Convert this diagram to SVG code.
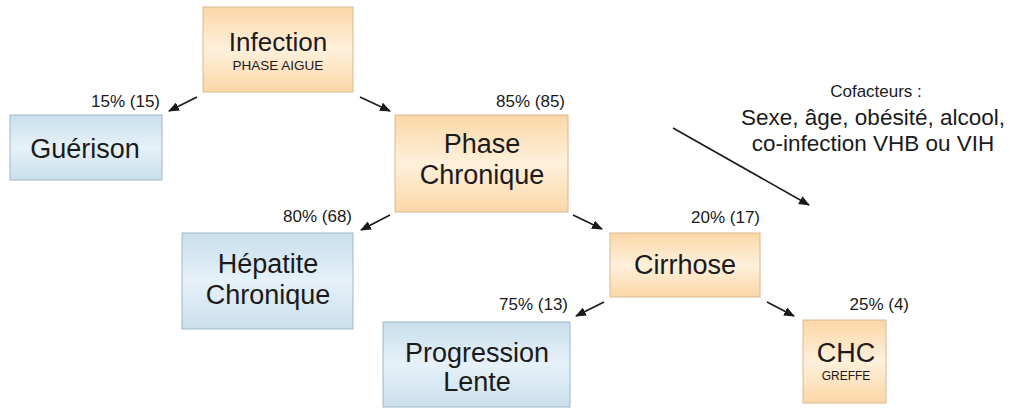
<svg xmlns="http://www.w3.org/2000/svg" width="1010" height="417" viewBox="0 0 1010 417">
<defs>
<linearGradient id="gO" x1="0" y1="0" x2="0" y2="1">
<stop offset="0" stop-color="#fbd7a6"/>
<stop offset="0.5" stop-color="#fef0dc"/>
<stop offset="1" stop-color="#fbd7a6"/>
</linearGradient>
<linearGradient id="gB" x1="0" y1="0" x2="0" y2="1">
<stop offset="0" stop-color="#c9dfec"/>
<stop offset="0.5" stop-color="#e6f1f8"/>
<stop offset="1" stop-color="#c9dfec"/>
</linearGradient>
<marker id="ah" markerWidth="11" markerHeight="9" refX="10" refY="4.5" orient="auto" markerUnits="userSpaceOnUse">
<path d="M0,0 L11,4.5 L0,9 Z" fill="#1a1a1a"/>
</marker>
<style>
.o{fill:url(#gO);stroke:#d6b994;stroke-width:1}
.b{fill:url(#gB);stroke:#9fb6c6;stroke-width:1}
text{font-family:"Liberation Sans",Arial,sans-serif;fill:#1a1a1a;text-anchor:middle}
.t{font-size:27px}
.i{font-size:26px}
.s{font-size:13.5px}
.g{font-size:12px}
.p{font-size:17px;text-anchor:end}
.c{font-size:17px}
.f{font-size:22.5px}
.e{stroke:#1a1a1a;stroke-width:1.6;fill:none;marker-end:url(#ah)}
</style>
</defs>
<g id="connectors">
<line class="e" x1="197" y1="97" x2="169" y2="111"/>
<line class="e" x1="360" y1="97" x2="390" y2="111"/>
<line class="e" x1="390" y1="215" x2="361" y2="230"/>
<line class="e" x1="573" y1="215" x2="602" y2="229"/>
<line class="e" x1="604" y1="302" x2="576" y2="316"/>
<line class="e" x1="767" y1="302" x2="794" y2="316"/>
<line class="e" x1="673" y1="128" x2="809" y2="205"/>
</g>
<g id="infection">
<rect class="o" x="203" y="7" width="150" height="85"/>
<text class="i" x="278" y="51">Infection</text>
<text class="s" x="278" y="70">PHASE AIGUE</text>
</g>
<g id="guerison">
<rect class="b" x="10" y="115" width="152" height="65"/>
<text class="t" x="85" y="158">Guérison</text>
<text class="p" x="160" y="107">15% (15)</text>
</g>
<g id="phase-chronique">
<rect class="o" x="395" y="115" width="173" height="97"/>
<text class="t" x="482" y="153">Phase</text>
<text class="t" x="482" y="184">Chronique</text>
<text class="p" x="565" y="107">85% (85)</text>
</g>
<g id="cofacteurs">
<text class="c" x="876" y="97">Cofacteurs :</text>
<text class="f" x="873" y="125">Sexe, âge, obésité, alcool,</text>
<text class="f" x="873" y="151">co-infection VHB ou VIH</text>
</g>
<g id="hepatite-chronique">
<rect class="b" x="182" y="233" width="171" height="96"/>
<text class="t" x="268" y="273">Hépatite</text>
<text class="t" x="268" y="304">Chronique</text>
<text class="p" x="352" y="222">80% (68)</text>
</g>
<g id="cirrhose">
<rect class="o" x="610" y="233" width="150" height="64"/>
<text class="t" x="685" y="274">Cirrhose</text>
<text class="p" x="760" y="223">20% (17)</text>
</g>
<g id="progression-lente">
<rect class="b" x="383" y="322" width="187" height="85"/>
<text class="t" x="477" y="362">Progression</text>
<text class="t" x="477" y="391">Lente</text>
<text class="p" x="568" y="310">75% (13)</text>
</g>
<g id="chc">
<rect class="o" x="803" y="320" width="83" height="83"/>
<text class="t" x="846" y="362">CHC</text>
<text class="g" x="846" y="380">GREFFE</text>
<text class="p" x="909" y="310">25% (4)</text>
</g>
</svg>
